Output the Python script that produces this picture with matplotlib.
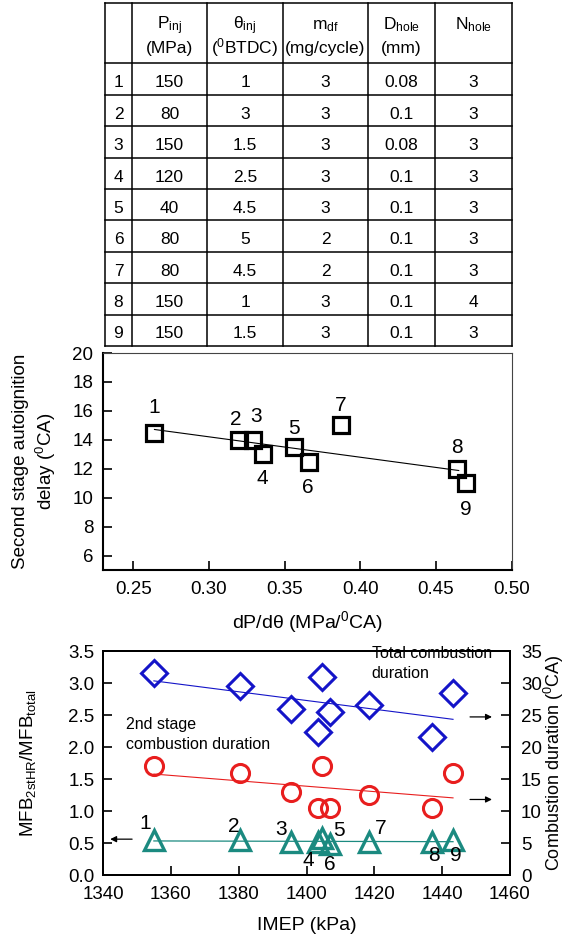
import numpy as np
import matplotlib
matplotlib.use('Agg')
import matplotlib.pyplot as plt

plt.rcParams['font.family'] = ['Liberation Sans', 'DejaVu Sans']
plt.rcParams['mathtext.fontset'] = 'custom'
plt.rcParams['mathtext.rm'] = 'Liberation Sans'
plt.rcParams['mathtext.it'] = 'Liberation Sans:italic'
plt.rcParams['mathtext.bf'] = 'Liberation Sans:bold'

# ---------------- table data ----------------
case_no = ['1', '2', '3', '4', '5', '6', '7', '8', '9']
p_inj = ['150', '80', '150', '120', '40', '80', '80', '150', '150']
theta_inj = ['1', '3', '1.5', '2.5', '4.5', '5', '4.5', '1', '1.5']
m_df = ['3', '3', '3', '3', '3', '2', '2', '3', '3']
d_hole = ['0.08', '0.1', '0.08', '0.1', '0.1', '0.1', '0.1', '0.1', '0.1']
n_hole = ['3', '3', '3', '3', '3', '3', '3', '4', '3']
head_1 = ['', 'P$_{\\rm inj}$', 'θ$_{\\rm inj}$', 'm$_{\\rm df}$', 'D$_{\\rm hole}$', 'N$_{\\rm hole}$']
head_2 = ['', '(MPa)', '($^{\\rm 0}$BTDC)', '(mg/cycle)', '(mm)', '']

# ---------------- middle plot data ----------------
dpdth = np.array([0.264, 0.320, 0.329, 0.336, 0.356, 0.366, 0.387, 0.464, 0.470])
delay = np.array([14.5, 14.0, 14.0, 13.0, 13.5, 12.5, 15.0, 12.0, 11.0])
lab_x1 = [0.264, 0.318, 0.331, 0.335, 0.356, 0.365, 0.387, 0.464, 0.470]
lab_y1 = [16.2, 15.4, 15.6, 11.3, 14.8, 10.7, 16.4, 13.5, 9.2]

# ---------------- bottom plot data ----------------
imep = np.array([1355, 1380.5, 1395.5, 1403.3, 1404.5, 1406.8, 1418.3, 1437, 1443.2])
total_dur = np.array([31.5, 29.5, 26.0, 22.4, 31.0, 25.5, 26.5, 21.5, 28.5])
stage2_dur = np.array([17.0, 16.0, 13.0, 10.5, 17.0, 10.5, 12.5, 10.5, 16.0])
mfb_ratio = np.array([0.54, 0.54, 0.51, 0.51, 0.58, 0.48, 0.51, 0.51, 0.55])
lab_x2 = [1352.5, 1378.5, 1392.5, 1400.5, 1409.5, 1407, 1422, 1437.5, 1444]
lab_y2 = [0.80, 0.76, 0.71, 0.22, 0.69, 0.16, 0.72, 0.30, 0.30]

fig = plt.figure(figsize=(5.76, 9.40), dpi=100)
W, H = 576., 940.

# ---------------- table (pixel coords overlay) ----------------
tax = fig.add_axes([0, 0, 1, 1])
tax.set_xlim(0, W)
tax.set_ylim(H, 0)
tax.axis('off')
col_edges = [105, 132, 207, 283, 368, 435, 512]
row_edges = [3, 63.3] + [63.3 + 31.4 * (k + 1) for k in range(9)]
for xe in col_edges:
    tax.plot([xe, xe], [row_edges[0], row_edges[-1]], color='black', lw=1.1)
for ye in row_edges:
    tax.plot([col_edges[0], col_edges[-1]], [ye, ye], color='black', lw=1.1)
centers = [(col_edges[i] + col_edges[i + 1]) / 2 for i in range(6)]
for i in range(6):
    tax.text(centers[i], 29, head_1[i], ha='center', va='baseline', fontsize=12.5)
    tax.text(centers[i], 53, head_2[i], ha='center', va='baseline', fontsize=12.5)
cols = [case_no, p_inj, theta_inj, m_df, d_hole, n_hole]
for r in range(9):
    for c in range(6):
        tax.text(centers[c], row_edges[r + 1] + 24, cols[c][r], ha='center', va='baseline',
                 fontsize=12.5)

# ---------------- middle plot ----------------
ax1 = fig.add_axes([103 / W, 1 - 570 / H, (511.7 - 103) / W, (570 - 353) / H])
ax1.plot(dpdth, delay, 's', ms=11, mfc='none', mec='black', mew=2.3, zorder=3)
k1, b1 = np.polyfit(dpdth, delay, 1)
xf = np.array([dpdth.min(), 0.465])
ax1.plot(xf, k1 * xf + b1, color='black', lw=0.8)
for i in range(9):
    ax1.text(lab_x1[i], lab_y1[i], case_no[i], ha='center', va='center', fontsize=15)
ax1.set_xlim(0.23, 0.50)
ax1.set_ylim(5, 20)
ax1.set_xticks(np.arange(0.25, 0.501, 0.05))
ax1.set_yticks(np.arange(6, 21, 2))
ax1.set_xticklabels(['0.25', '0.30', '0.35', '0.40', '0.45', '0.50'])
ax1.tick_params(direction='in', length=6.5, width=1.2, labelsize=13.5, pad=7)
ax1.tick_params(axis='x', pad=8)
for s in ['left', 'bottom']:
    ax1.spines[s].set_linewidth(1.5)
for s in ['top', 'right']:
    ax1.spines[s].set_linewidth(0.8)
    ax1.spines[s].set_color('#444444')
ax1.set_ylabel('Second stage autoignition\ndelay ($^{\\rm 0}$CA)', fontsize=13.5,
               multialignment='center', va='center', linespacing=1.3)
ax1.yaxis.set_label_coords(-(103 - 35) / 408.7, 0.5)
ax1.set_xlabel('dP/dθ (MPa/$^{\\rm 0}$CA)', fontsize=14)
ax1.xaxis.label.set_va('center')
ax1.xaxis.set_label_coords(0.5, -(622 - 570) / 217.)

# ---------------- bottom plot ----------------
ax2 = fig.add_axes([103 / W, 1 - 875 / H, (510 - 103) / W, (875 - 651) / H])
ax3 = ax2.twinx()
blue = '#1414c8'
red = '#e81e1e'
teal = '#1b8a80'
ax3.plot(imep, total_dur, 'D', ms=13, mfc='none', mec=blue, mew=2.2, zorder=3)
ax3.plot(imep, stage2_dur, 'o', ms=13, mfc='none', mec=red, mew=2.2, zorder=3)
ax2.plot(imep, mfb_ratio, '^', ms=15, mfc='none', mec=teal, mew=2.4, zorder=3)
xl = np.array([imep.min(), imep.max()])
kt, bt = np.polyfit(imep, total_dur, 1)
ks, bs = np.polyfit(imep, stage2_dur, 1)
km, bm = np.polyfit(imep, mfb_ratio, 1)
ax3.plot(xl, kt * xl + bt, color=blue, lw=0.8)
ax3.plot(xl, ks * xl + bs, color=red, lw=0.8)
ax2.plot(xl, km * xl + bm, color=teal, lw=0.9)
for i in range(9):
    ax2.text(lab_x2[i], lab_y2[i], case_no[i], ha='center', va='center', fontsize=15)

ax2.text(1419.2, 3.31, 'Total combustion\nduration', ha='left', va='center', fontsize=11.5,
         linespacing=1.4)
ax2.text(1346.7, 2.19, '2nd stage\ncombustion duration', ha='left', va='center', fontsize=11.5,
         linespacing=1.4)
arr = dict(arrowstyle='-|>', lw=0.9, color='black', mutation_scale=9)
ax2.annotate('', xy=(1455.5, 2.47), xytext=(1447.4, 2.47), arrowprops=arr)
ax2.annotate('', xy=(1455.5, 1.18), xytext=(1447.4, 1.18), arrowprops=arr)
ax2.annotate('', xy=(1341.3, 0.56), xytext=(1349.4, 0.56), arrowprops=arr)

ax2.set_xlim(1340, 1460)
ax2.set_ylim(0, 3.5)
ax3.set_ylim(0, 35)
ax2.set_xticks(np.arange(1340, 1461, 20))
ax2.set_yticks(np.arange(0, 3.51, 0.5))
ax2.set_yticklabels(['%.1f' % v for v in np.arange(0, 3.51, 0.5)])
ax3.set_yticks(np.arange(0, 36, 5))
ax2.tick_params(direction='in', length=6.5, width=1.2, labelsize=13.5, pad=6)
ax2.tick_params(axis='x', pad=8)
ax3.tick_params(direction='in', length=6.5, width=1.2, labelsize=13.5, pad=8)
for a in [ax2, ax3]:
    for s in ['left', 'bottom', 'right', 'top']:
        a.spines[s].set_linewidth(1.4)
ax2.set_xlabel('IMEP (kPa)', fontsize=14)
ax2.xaxis.label.set_va('center')
ax2.xaxis.set_label_coords(0.5, -(925 - 875) / 224.)
ax2.set_ylabel('MFB$_{\\rm 2stHR}$/MFB$_{\\rm total}$', fontsize=13.5, va='center')
ax2.yaxis.set_label_coords(-(103 - 28) / 407., 0.5)
ax3.set_ylabel('Combustion duration ($^{\\rm 0}$CA)', fontsize=13, va='center')
ax3.yaxis.set_label_coords(1 + (554 - 510) / 407., 0.5)

fig.savefig('out.png', dpi=100)
